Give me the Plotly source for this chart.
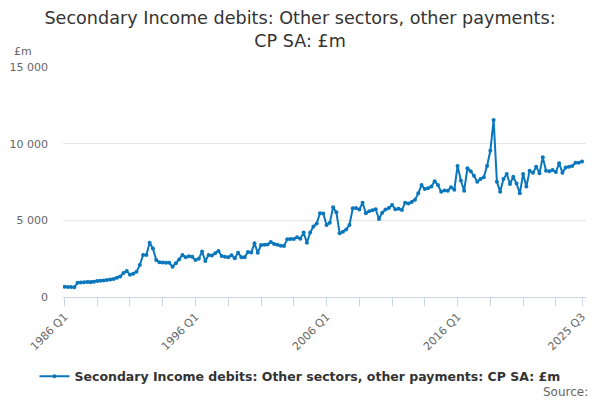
import plotly.graph_objects as go

# quarterly series, 1986 Q1 .. 2025 Q3
start_year = 1986
values = [
    670, 660, 650, 630, 930, 950, 960, 980, 970, 990,
    1040, 1060, 1080, 1110, 1140, 1180, 1250, 1330, 1560, 1690,
    1450, 1520, 1640, 2090, 2740, 2740, 3540, 3170, 2410, 2260,
    2250, 2240, 2230, 1980, 2200, 2450, 2740, 2600, 2650, 2620,
    2410, 2500, 2960, 2350, 2740, 2700, 2850, 3000, 2670, 2620,
    2600, 2720, 2520, 2890, 2590, 2600, 2940, 2900, 3500, 2890,
    3390, 3400, 3420, 3590, 3450, 3400, 3350, 3330, 3760, 3780,
    3780, 3890, 3800, 4200, 3540, 4200, 4600, 4800, 5460, 5450,
    4700, 4850, 5850, 5520, 4150, 4250, 4400, 4700, 5780, 5800,
    5700, 6150, 5460, 5600, 5650, 5720, 5090, 5500, 5700, 5800,
    6000, 5720, 5750, 5670, 6150, 6100, 6200, 6350, 6760, 7300,
    7040, 7100, 7200, 7550, 7300, 6870, 6950, 6930, 7150, 7000,
    8550, 7600, 6930, 8390, 8200, 7900, 7520, 7700, 7810, 8550,
    9540, 11550, 7520, 6870, 7700, 8020, 7370, 7850, 7400, 6760,
    8020, 7200, 8240, 8100, 8500, 8070, 9110, 8240, 8200, 8280,
    8150, 8720, 8110, 8450, 8500, 8550, 8760, 8760, 8830,
]
quarters = [f"{start_year + i // 4} Q{i % 4 + 1}" for i in range(len(values))]
labelled = ["1986 Q1", "1996 Q1", "2006 Q1", "2016 Q1", "2025 Q3"]
y_ticks = [0, 5000, 10000, 15000]
y_labels = ["0", "5 000", "10 000", "15 000"]

series_name = "Secondary Income debits: Other sectors, other payments: CP SA: £m"
blue = "#0a77bd"
grey = "#666666"

idx = list(range(len(values)))
# tick every 10 quarters plus the last one, labels only on some
tick_pos = list(range(0, len(values), 10)) + [len(values) - 1]
tick_txt = [quarters[i] if quarters[i] in labelled else "" for i in tick_pos]

fig = go.Figure()
fig.add_trace(go.Scatter(
    x=idx, y=values, mode="lines+markers", name=series_name,
    line=dict(color=blue, width=2),
    marker=dict(color=blue, size=4),
    text=quarters, hoverinfo="text+y",
))

fig.update_layout(
    width=600, height=400,
    paper_bgcolor="white", plot_bgcolor="white",
    font=dict(family="DejaVu Sans", color="#333333"),
    margin=dict(l=63, r=14, t=67, b=103, autoexpand=False),
    title=dict(
        text="Secondary Income debits: Other sectors, other payments:<br>CP SA: £m",
        x=0.5, xanchor="center", y=0.94, yanchor="top",
        font=dict(size=17.6, color="#333333"),
    ),
    showlegend=True,
    legend=dict(
        orientation="h", xref="container", yref="container",
        x=0.5, xanchor="center", y=0.096, yanchor="top", itemwidth=30,
        font=dict(size=12.5, color="#333333", weight="bold"),
    ),
    xaxis=dict(
        range=[-0.45, 159.2],
        tickmode="array", tickvals=tick_pos, ticktext=tick_txt,
        tickangle=-45, tickfont=dict(size=11, color=grey),
        ticks="outside", ticklen=8, tickcolor="#ccd6eb",
        showline=True, linecolor="#ccd6eb", showgrid=False, zeroline=False,
    ),
    yaxis=dict(
        range=[0, 15000],
        tickmode="array", tickvals=y_ticks, ticktext=y_labels,
        tickfont=dict(size=11, color=grey), ticklabelstandoff=14,
        showgrid=True, gridcolor="#e6e6e6", zeroline=False, showline=False,
    ),
    annotations=[
        dict(text="£m", xref="paper", yref="paper", x=-0.098, y=1.03,
             xanchor="left", yanchor="bottom", showarrow=False,
             font=dict(size=11, color=grey)),
        dict(text="Source:", xref="paper", yref="paper", x=1.007, y=-0.372,
             xanchor="right", yanchor="top", showarrow=False,
             font=dict(size=12, color=grey)),
    ],
)

fig.write_html("out.html", config={"displayModeBar": False},
               post_script="document.body.style.margin='0';")
